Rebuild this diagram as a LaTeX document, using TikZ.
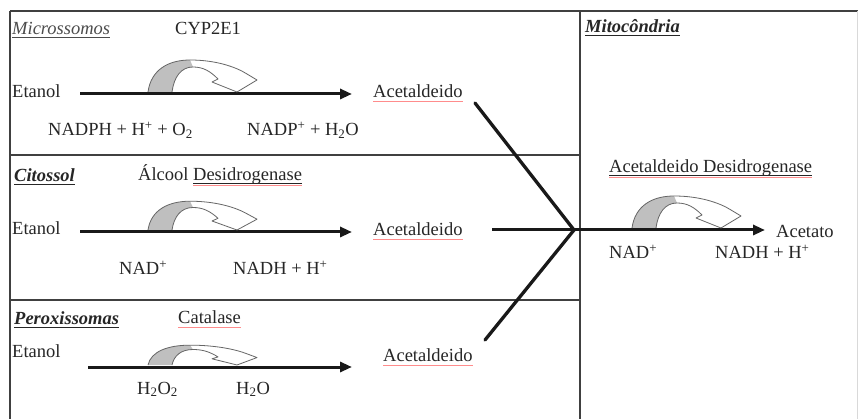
\documentclass[tikz,border=0pt]{standalone}
\usepackage{fontspec}
\setmainfont{Liberation Serif}
\usetikzlibrary{arrows.meta}
\newcommand\dkul[1]{\setbox0=\hbox{#1}\leavevmode\rlap{\rule[-2.8pt]{\wd0}{0.8pt}}\box0}
\newcommand\pkul[1]{\setbox0=\hbox{#1}\leavevmode\rlap{\color{red!45}\rule[-3.5pt]{\wd0}{0.9pt}}\box0}
\newcommand\dkpk[1]{\setbox0=\hbox{#1}\leavevmode\rlap{\rule[-2.8pt]{\wd0}{0.8pt}}\rlap{\color{red!45}\rule[-4.6pt]{\wd0}{0.8pt}}\box0}
\begin{document}
\begin{tikzpicture}[x=1pt,y=-1pt,
  font=\fontsize{18.5}{22}\selectfont,
  txt/.style={inner sep=0pt, anchor=base west, text=black!85},
  frame/.style={draw=black!75, line width=1.6pt},
  rxn/.style={line width=3pt, draw=black!90, -{Triangle[length=12pt,width=10pt]}},
  conv/.style={line width=3.3pt, draw=black!90, line cap=round},
  carrow/.pic={
    \fill[white] (0,0) .. controls (3,-22) and (20,-32) .. (42,-32) .. controls (68,-32) and (88,-25) .. (99,-18) -- (109,-12) -- (89,0) -- (64,-10) -- (70,-13) .. controls (62,-21) and (55,-25) .. (45,-25) .. controls (33,-25) and (26,-15) .. (24,0) -- cycle;
    \fill[gray!50] (0,0) .. controls (3,-22) and (20,-32) .. (42,-32) -- (45,-25) .. controls (33,-25) and (26,-15) .. (24,0) -- cycle;
    \draw[black!60, line width=0.8pt, line join=round] (0,0) .. controls (3,-22) and (20,-32) .. (42,-32) .. controls (68,-32) and (88,-25) .. (99,-18) -- (109,-12) -- (89,0) -- (64,-10) -- (70,-13) .. controls (62,-21) and (55,-25) .. (45,-25) .. controls (33,-25) and (26,-15) .. (24,0);
  }]
\useasboundingbox (0,0) rectangle (859,419);
\fill[white] (0,0) rectangle (859,419);

% frame
\draw[frame, line width=2pt] (10,11) -- (858,11);
\draw[frame, line width=2pt] (10,11) -- (10,419);
\draw[frame] (580,11) -- (580,419);
\draw[frame] (10,155) -- (580,155);
\draw[frame] (10,300) -- (580,300);
\draw[black!15, line width=1pt] (857,11) -- (857,419);

% Microssomos
\node[txt] (lmic) at (12,35) {\color{black!70}\itshape\dkul{Microssomos}};
\node[txt] (enz1) at (175,35) {CYP2E1};
\node[txt] (et1) at (12,98) {Etanol};
\node[txt] (ac1) at (373,98) {\pkul{Acetaldeido}};
\node[txt] (co1a) at (48,136) {NADPH + H\textsuperscript{+} + O\textsubscript{2}};
\node[txt] (co1b) at (247,136) {NADP\textsuperscript{+} + H\textsubscript{2}O};
\coordinate (a1s) at (80,94);
\coordinate (a1e) at (352,94);
\draw[rxn] (a1s) -- (a1e);
\pic at (148,92) {carrow};

% Citossol
\node[txt] (lcit) at (14,182) {\bfseries\itshape\dkul{Citossol}};
\node[txt] (enz2) at (138,181) {Álcool \dkpk{Desidrogenase}};
\node[txt] (et2) at (12,235) {Etanol};
\node[txt] (ac2) at (373,236) {\pkul{Acetaldeido}};
\node[txt] (co2a) at (119,275) {NAD\textsuperscript{+}};
\node[txt] (co2b) at (233,275) {NADH + H\textsuperscript{+}};
\coordinate (a2s) at (80,232);
\coordinate (a2e) at (352,232);
\draw[rxn] (a2s) -- (a2e);
\pic[yscale=0.9] at (148,230) {carrow};

% Peroxissomas
\node[txt] (lper) at (14,325) {\bfseries\itshape\dkul{Peroxissomas}};
\node[txt] (enz3) at (178,324) {\pkul{Catalase}};
\node[txt] (et3) at (12,357) {Etanol};
\node[txt] (ac3) at (383,362) {\pkul{Acetaldeido}};
\node[txt] (co3a) at (137,394) {H\textsubscript{2}O\textsubscript{2}};
\node[txt] (co3b) at (236,394) {H\textsubscript{2}O};
\coordinate (a3s) at (88,367);
\coordinate (a3e) at (352,367);
\draw[rxn] (a3s) -- (a3e);
\pic[yscale=0.62] at (148,365) {carrow};

% convergence
\coordinate (hub) at (574,230);
\coordinate (c1) at (475,103);
\coordinate (c2) at (492,230);
\coordinate (c3) at (485,340);
\draw[conv] (c1) -- (hub);
\draw[conv] (c3) -- (hub);
\coordinate (m1e) at (765,230);
\draw[rxn] (c2) -- (m1e);

% Mitocondria
\node[txt] (lmit) at (585,33) {\bfseries\itshape\dkul{Mitocôndria}};
\node[txt] (enz4) at (609,173) {\dkpk{Acetaldeido Desidrogenase}};
\node[txt] (prod) at (776,238) {Acetato};
\node[txt] (co4a) at (609,259) {NAD\textsuperscript{+}};
\node[txt] (co4b) at (715,259) {NADH + H\textsuperscript{+}};
\pic at (632,228) {carrow};
\end{tikzpicture}
\end{document}
